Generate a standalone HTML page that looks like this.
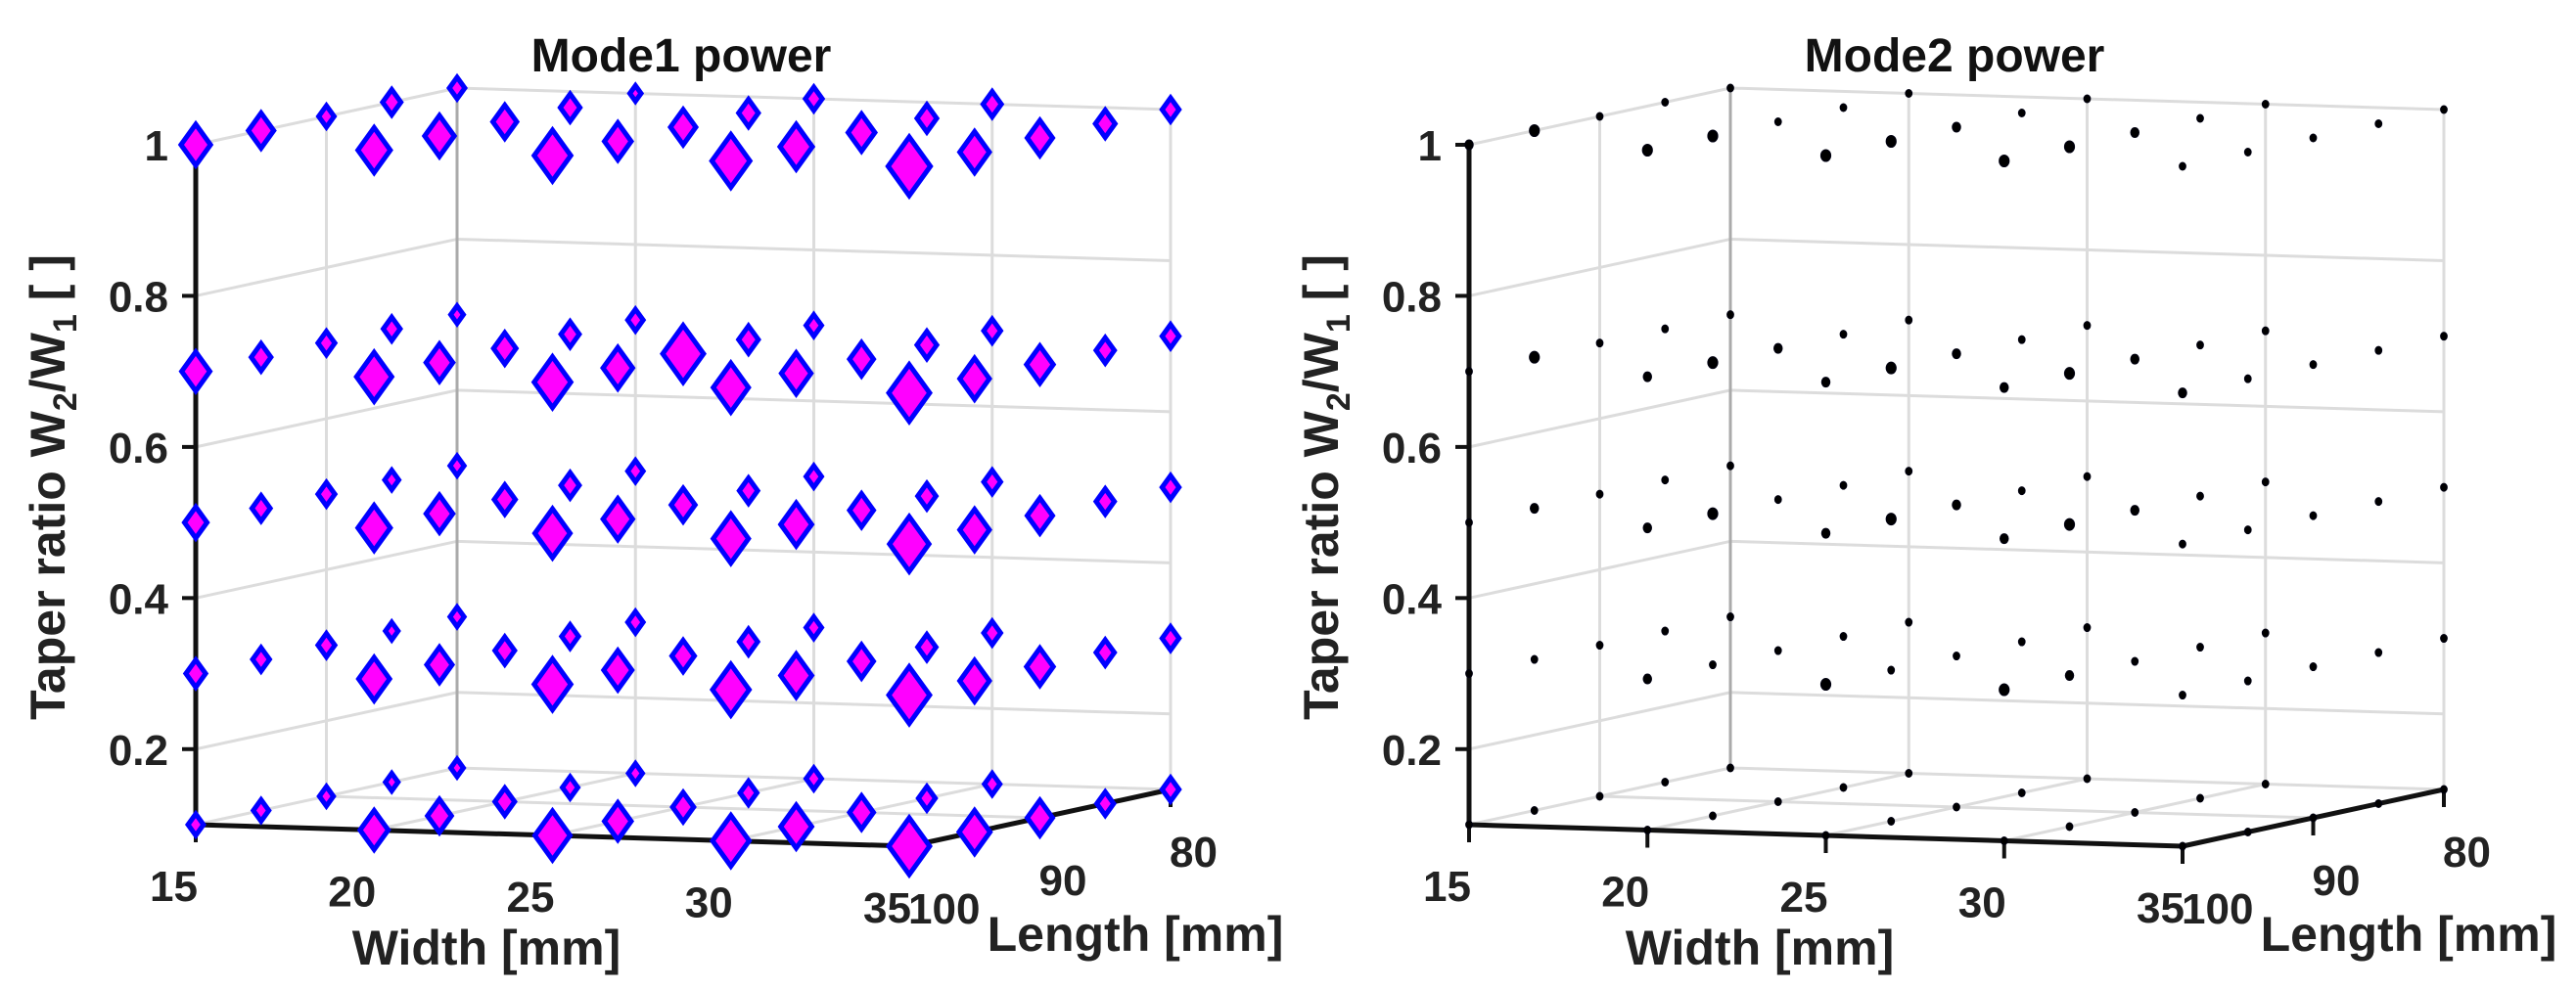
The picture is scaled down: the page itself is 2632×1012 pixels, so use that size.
<!DOCTYPE html>
<html><head><meta charset="utf-8"><style>
html,body{margin:0;padding:0;background:#fff;}
svg{display:block;font-family:"Liberation Sans",Arial,sans-serif;font-weight:bold;}
</style></head><body>
<svg id="fig" width="2632" height="1012" viewBox="0 0 2632 1012" xmlns="http://www.w3.org/2000/svg">
<rect width="2632" height="1012" fill="#fff"/>
<g id="c1"></g>
<g id="c2"></g>
</svg>
<script>
const widths = [15, 20, 25, 30, 35];
const lengths = [100, 95, 90, 85, 80];
const taper = [0.1, 0.3, 0.5, 0.7, 1.0];
const zTicks = [0.2, 0.4, 0.6, 0.8, 1];
const zTickLabels = ["0.2", "0.4", "0.6", "0.8", "1"];
const widthTickLabels = ["15", "20", "25", "30", "35"];
const lengthTicks = [100, 90, 80];
const lengthTickLabels = ["100", "90", "80"];
// mode1 marker sizes [taper][length][width]
const mode1Size = [
 [[11,20,25,26,29],[11,17,19,22,22],[10,14,15,17,18],[9,11,12,12,12],[9,10,11,11,12]],
 [[14,22,26,26,29],[12,18,20,22,21],[12,14,16,17,19],[9,12,13,13,13],[10,11,11,12,12]],
 [[16,23,25,25,28],[13,19,21,22,21],[12,15,17,17,18],[10,13,13,13,13],[10,11,11,12,12]],
 [[20,25,26,25,29],[14,19,21,21,21],[12,16,29,17,19],[12,13,14,14,13],[9,11,11,12,12]],
 [[21,23,26,27,30],[18,21,19,23,21],[11,17,18,19,18],[13,14,14,14,14],[11,8,12,13,12]]
];
// mode2 dot radii [taper][length][width]
const mode2Size = [
 [[4,4,4,4,4],[4,4,4,4,4],[4,4,4,4,4],[4,4,4,4,4],[4,4,4,4,4]],
 [[4,5,6,6,4],[4,4,4,5,4],[4,4,4,4,4],[4,4,4,4,4],[4,4,4,4,4]],
 [[4,5,5,5,4],[5,6,6,6,4],[4,4,5,5,4],[4,4,4,4,4],[4,4,4,4,4]],
 [[4,5,5,5,5],[6,6,6,6,4],[4,5,5,5,4],[4,4,4,4,4],[4,4,4,4,4]],
 [[5,6,6,6,4],[6,6,6,6,4],[4,4,5,5,4],[4,4,4,4,4],[4,4,4,4,4]]
];
const NS = "http://www.w3.org/2000/svg";
function xy(ox, w, L, z) {
  const fw = (w - 15) / 20, fl = (100 - L) / 20, fz = (z - 0.1) / 0.9;
  return [200 + ox + fw * 729 + fl * 267, 843 + fw * 22 - fl * 58 - fz * 695];
}
function mk(g, tag, attrs) {
  const e = document.createElementNS(NS, tag);
  for (const k in attrs) e.setAttribute(k, attrs[k]);
  g.appendChild(e);
  return e;
}
function line(g, a, b, col, sw) {
  return mk(g, "line", {x1:a[0], y1:a[1], x2:b[0], y2:b[1], stroke:col, "stroke-width":sw});
}
function draw(g, ox, title, sizes, isMode1) {
  const grid = "#dcdcdc";
  zTicks.forEach(z => {
    const gl = mk(g, "polyline", {points:[xy(ox,15,100,z), xy(ox,15,80,z), xy(ox,35,80,z)].map(p=>p.join(",")).join(" "), fill:"none", stroke:grid, "stroke-width":3});
    
    
  });
  line(g, xy(ox,15,90,0.1), xy(ox,15,90,1), grid, 3);
  [20,25,30].forEach(w => line(g, xy(ox,w,80,0.1), xy(ox,w,80,1), grid, 3));
  line(g, xy(ox,15,80,0.1), xy(ox,15,80,1), "#aaa", 3);
  line(g, xy(ox,35,80,0.1), xy(ox,35,80,1), grid, 3);
  [20,25,30].forEach(w => line(g, xy(ox,w,100,0.1), xy(ox,w,80,0.1), grid, 3));
  line(g, xy(ox,15,90,0.1), xy(ox,35,90,0.1), grid, 3);
  line(g, xy(ox,15,100,0.1), xy(ox,15,80,0.1), grid, 3);
  line(g, xy(ox,15,80,0.1), xy(ox,35,80,0.1), grid, 3);
  const za = line(g, xy(ox,15,100,0.1), xy(ox,15,100,1), "#111", 5);
  
  
  const wa = line(g, xy(ox,15,100,0.1), xy(ox,35,100,0.1), "#111", 5);
  
  
  const la = line(g, xy(ox,35,100,0.1), xy(ox,35,80,0.1), "#111", 5);
  
  
  zTicks.forEach((z, i) => {
    const p = xy(ox,15,100,z);
    line(g, [p[0]-14,p[1]], p, "#111", 4);
    const t = mk(g, "text", {x:p[0]-28, y:p[1]+16, "text-anchor":"end", "font-size":44, fill:"#222"});
    t.textContent = zTickLabels[i];
    
    
  });
  widths.forEach((w, i) => {
    const p = xy(ox,w,100,0.1);
    line(g, p, [p[0],p[1]+18], "#111", 4);
    const t = mk(g, "text", {x:p[0]+2, y:p[1]+78, "text-anchor":"end", "font-size":44, fill:"#222"});
    t.textContent = widthTickLabels[i];
    
    
  });
  lengthTicks.forEach((L, i) => {
    const p = xy(ox,35,L,0.1);
    line(g, p, [p[0],p[1]+18], "#111", 4);
    const t = mk(g, "text", {x:p[0]-1, y:p[1]+79, "text-anchor":"start", "font-size":44, fill:"#222"});
    t.textContent = lengthTickLabels[i];
    
    
  });
  for (let li = lengths.length - 1; li >= 0; li--) {
    taper.forEach((z, zi) => {
      widths.forEach((w, wi) => {
        const p = xy(ox, w, lengths[li], z);
        const s = sizes[zi][li][wi];
        let m;
        if (isMode1) {
          const hw = s * 0.72;
          m = mk(g, "polygon", {points:`${p[0]},${p[1]-s} ${p[0]+hw},${p[1]} ${p[0]},${p[1]+s} ${p[0]-hw},${p[1]}`, fill:"#ff00ff", stroke:"#0000ff", "stroke-width":5, "stroke-linejoin":"miter"});
          
        } else {
          m = mk(g, "ellipse", {cx:p[0], cy:p[1], rx:s*0.85, ry:s, fill:"#000", stroke:"#001", "stroke-width":1});
          
        }
        
      });
    });
  }
  const tt = mk(g, "text", {x:696+ox, y:73, "text-anchor":"middle", "font-size":48, fill:"#111"});
  tt.textContent = title;
  
  
  const wl = mk(g, "text", {x:497+ox, y:986, "text-anchor":"middle", "font-size":50, fill:"#222"});
  wl.textContent = "Width [mm]";
  
  
  const ll = mk(g, "text", {x:1160+ox, y:972, "text-anchor":"middle", "font-size":50, fill:"#222"});
  ll.textContent = "Length [mm]";
  
  
  const yl = mk(g, "text", {x:0, y:0, "text-anchor":"middle", "font-size":50, fill:"#222", transform:`translate(${66+ox},498) rotate(-90)`});
  yl.innerHTML = 'Taper ratio W<tspan font-size="34" dy="12">2</tspan><tspan dy="-12">/W</tspan><tspan font-size="34" dy="12">1</tspan><tspan dy="-12"> [ ]</tspan>';
  
  
}
draw(document.getElementById("c1"), 0, "Mode1 power", mode1Size, true);
draw(document.getElementById("c2"), 1301, "Mode2 power", mode2Size, false);
</script>
</body></html>
